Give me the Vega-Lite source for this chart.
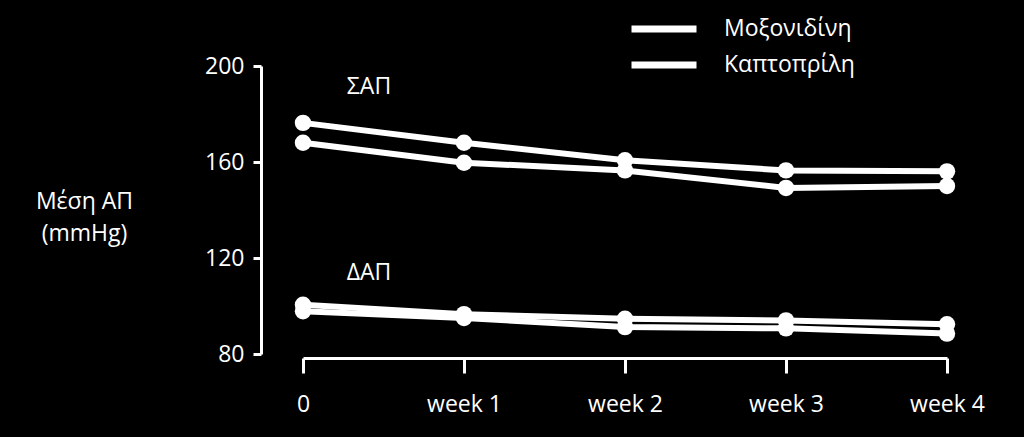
{
  "$schema": "https://vega.github.io/schema/vega-lite/v6.json",
  "background": "black",
  "autosize": {"type": "none"},
  "padding": {"left": 303, "top": 66, "right": 77, "bottom": 83},
  "width": 644,
  "height": 288,
  "config": {
    "view": {"stroke": null},
    "font": "Open Sans",
    "axis": {
      "grid": false,
      "domainColor": "white",
      "tickColor": "white",
      "labelColor": "white",
      "titleColor": "white",
      "domainWidth": 3,
      "tickWidth": 3,
      "labelFont": "Open Sans",
      "titleFont": "Open Sans",
      "labelFontSize": 23,
      "titleFontSize": 23,
      "titleFontWeight": "normal"
    }
  },
  "datasets": {
    "bp": [
      {"week": 0, "drug": "Μοξονιδίνη", "measure": "ΣΑΠ", "bp": 176.3},
      {"week": 1, "drug": "Μοξονιδίνη", "measure": "ΣΑΠ", "bp": 168.0},
      {"week": 2, "drug": "Μοξονιδίνη", "measure": "ΣΑΠ", "bp": 160.7},
      {"week": 3, "drug": "Μοξονιδίνη", "measure": "ΣΑΠ", "bp": 156.5},
      {"week": 4, "drug": "Μοξονιδίνη", "measure": "ΣΑΠ", "bp": 156.1},
      {"week": 0, "drug": "Καπτοπρίλη", "measure": "ΣΑΠ", "bp": 168.0},
      {"week": 1, "drug": "Καπτοπρίλη", "measure": "ΣΑΠ", "bp": 159.7},
      {"week": 2, "drug": "Καπτοπρίλη", "measure": "ΣΑΠ", "bp": 156.5},
      {"week": 3, "drug": "Καπτοπρίλη", "measure": "ΣΑΠ", "bp": 149.2},
      {"week": 4, "drug": "Καπτοπρίλη", "measure": "ΣΑΠ", "bp": 150.0},
      {"week": 0, "drug": "Μοξονιδίνη", "measure": "ΔΑΠ", "bp": 100.5},
      {"week": 1, "drug": "Μοξονιδίνη", "measure": "ΔΑΠ", "bp": 96.6},
      {"week": 2, "drug": "Μοξονιδίνη", "measure": "ΔΑΠ", "bp": 94.7},
      {"week": 3, "drug": "Μοξονιδίνη", "measure": "ΔΑΠ", "bp": 94.0},
      {"week": 4, "drug": "Μοξονιδίνη", "measure": "ΔΑΠ", "bp": 92.4},
      {"week": 0, "drug": "Καπτοπρίλη", "measure": "ΔΑΠ", "bp": 97.8},
      {"week": 1, "drug": "Καπτοπρίλη", "measure": "ΔΑΠ", "bp": 95.0},
      {"week": 2, "drug": "Καπτοπρίλη", "measure": "ΔΑΠ", "bp": 91.2},
      {"week": 3, "drug": "Καπτοπρίλη", "measure": "ΔΑΠ", "bp": 90.7},
      {"week": 4, "drug": "Καπτοπρίλη", "measure": "ΔΑΠ", "bp": 88.5}
    ],
    "labels": [
      {"week": 0, "bp": 188.5, "label": "ΣΑΠ"},
      {"week": 0, "bp": 110.7, "label": "ΔΑΠ"}
    ]
  },
  "encoding": {
    "x": {
      "field": "week",
      "type": "quantitative",
      "scale": {"domain": [0, 4], "nice": false, "zero": false},
      "axis": {
        "values": [0, 1, 2, 3, 4],
        "labelExpr": "datum.value == 0 ? '0' : 'week ' + datum.value",
        "title": null,
        "offset": 4,
        "tickSize": 15,
        "labelPadding": 20,
        "labelFlush": false,
        "labelOverlap": false
      }
    },
    "y": {
      "field": "bp",
      "type": "quantitative",
      "scale": {"domain": [80, 200], "nice": false, "zero": false},
      "axis": {
        "values": [80, 120, 160, 200],
        "offset": 42,
        "tickSize": 8,
        "labelPadding": 9,
        "title": ["Μέση ΑΠ", "(mmHg)"],
        "titleAngle": 0,
        "titleAlign": "center",
        "titleBaseline": "alphabetic",
        "titleX": -177,
        "titleY": 142,
        "titleLineHeight": 32
      }
    }
  },
  "layer": [
    {
      "data": {"name": "bp"},
      "mark": {"type": "line", "strokeWidth": 6, "strokeCap": "round"},
      "encoding": {
        "color": {
          "field": "drug",
          "type": "nominal",
          "scale": {"domain": ["Μοξονιδίνη", "Καπτοπρίλη"], "range": ["white", "white"]},
          "legend": {
            "orient": "none",
            "legendX": 325,
            "legendY": -51,
            "title": null,
            "symbolType": "stroke",
            "symbolStrokeWidth": 7,
            "symbolSize": 4225,
            "symbolStrokeColor": "white",
            "labelFontSize": 23,
            "labelFont": "Open Sans",
            "labelColor": "white",
            "labelOffset": 24,
            "clipHeight": 28,
            "rowPadding": 8,
            "padding": 0
          }
        },
        "detail": {"field": "measure"}
      }
    },
    {
      "data": {"name": "bp"},
      "mark": {"type": "point", "filled": true, "color": "white", "size": 270, "opacity": 1}
    },
    {
      "data": {"name": "labels"},
      "mark": {"type": "text", "color": "white", "fontSize": 23, "font": "Open Sans", "align": "center", "baseline": "alphabetic", "dx": 66},
      "encoding": {"text": {"field": "label"}}
    }
  ]
}
